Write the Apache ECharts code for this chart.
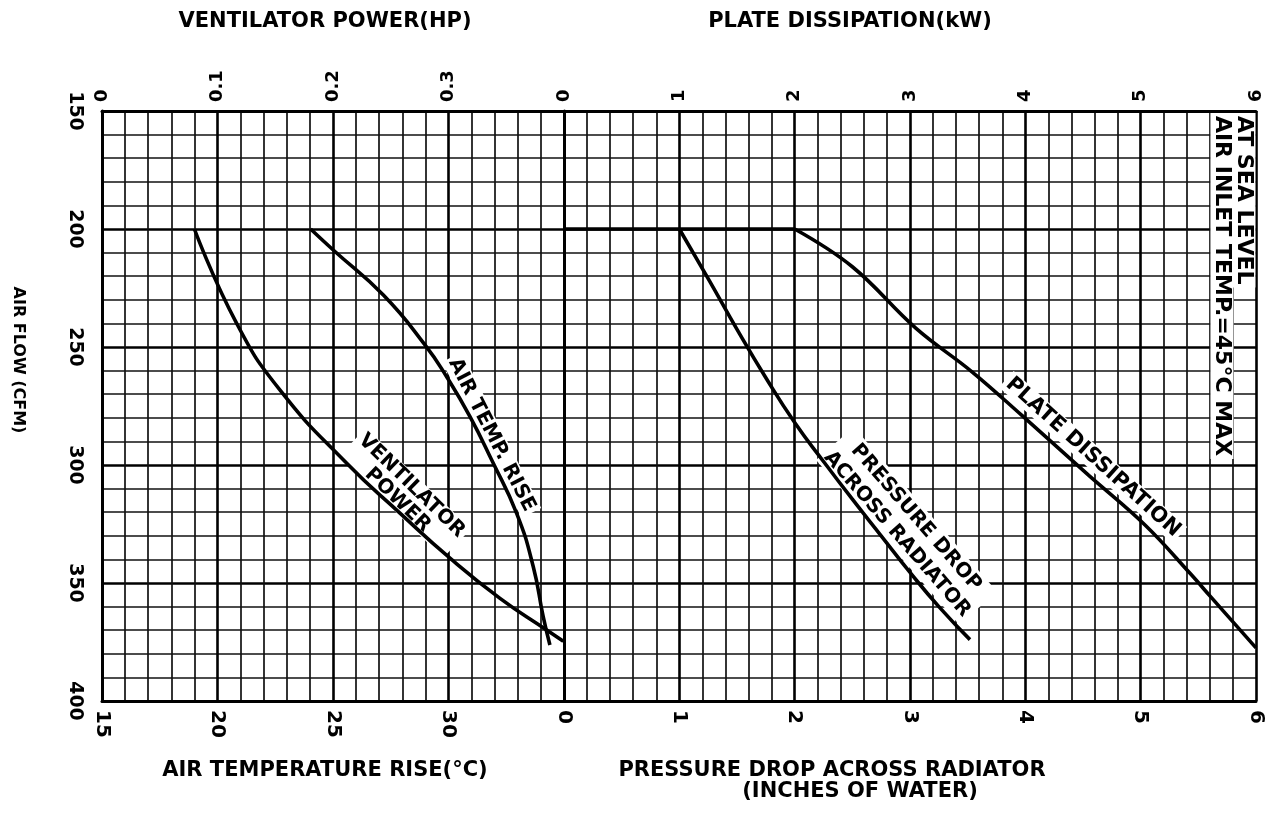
<!DOCTYPE html>
<html>
<head>
<meta charset="utf-8">
<title>Air flow chart</title>
<script src="https://cdn.jsdelivr.net/npm/echarts@6/dist/echarts.min.js"></script>
<style>
  html, body { margin: 0; padding: 0; background: #fff; }
  #chartDiv { width: 1272px; height: 824px; }
</style>
</head>
<body>
<div id="chartDiv"></div>
<script>
	// shared vertical scale: air flow (CFM), 150 at the top
	var airFlowTicks = [150, 200, 250, 300, 350, 400];
	// left panel: ventilator power on top, air temperature rise at the bottom
	var hpTicks = [0, 0.1, 0.2, 0.3, 0.4];
	var tempTicks = [15, 20, 25, 30, 35];
	// right panel: plate dissipation on top, pressure drop at the bottom
	var kwTicks = [0, 1, 2, 3, 4, 5, 6];
	var inchTicks = [0, 1, 2, 3, 4, 5, 6];

	// curves
	var ventPowerHp = [0.080, 0.1166, 0.154, 0.2119, 0.2582, 0.3013, 0.3446, 0.385, 0.3994];
	var ventPowerCfm = [200, 240, 268.2, 299.3, 320.5, 339.5, 356.5, 369.9, 374.7];

	var tempRiseC = [24.03, 25.01, 27.18, 28.99, 29.92, 30.93, 31.87, 32.95, 33.67, 34.10, 34.39];
	var tempRiseCfm = [200, 208.9, 228.0, 249.2, 262.6, 279.5, 297.9, 320.5, 343.1, 364.3, 376.3];

	var pressureIn = [1.0, 1.25, 1.5, 1.75, 2.0, 2.25, 2.5, 2.75, 3.0, 3.25, 3.52];
	var pressureCfm = [200, 221, 242.5, 263, 282, 298.5, 314.5, 330, 345.5, 360, 374];

	var plateFlatKw = [0, 2];
	var plateFlatCfm = [200, 200];
	var plateKw = [2.0, 2.5, 3.05, 3.54, 3.97, 4.55, 5.04, 5.43, 5.61, 6.0];
	var plateCfm = [200, 216, 242, 260.6, 279, 304.4, 325.5, 346, 356, 377.5];

	var FONT = 'DejaVu Sans';

	function pairs(xs, ys) {
		var out = [];
		for (var i = 0; i < xs.length; i++) {
			out.push([xs[i], ys[i]]);
		}
		return out;
	}

	function makeXAxis(ticks, gridIndex, position, fontSize, showSplit) {
		return {
			type : 'value',
			gridIndex : gridIndex,
			position : position,
			min : ticks[0],
			max : ticks[ticks.length - 1],
			interval : ticks[1] - ticks[0],
			axisLine : { show : true, lineStyle : { color : '#000', width : 3 } },
			axisTick : { show : false },
			axisLabel : {
				rotate : -90,
				margin : 9,
				color : '#000',
				fontFamily : FONT,
				fontWeight : 'bold',
				fontSize : fontSize,
				showMaxLabel : gridIndex === 1,
				formatter : function(v) { return String(v); }
			},
			splitLine : { show : showSplit, lineStyle : { color : '#000', width : 2.6 } },
			minorTick : { show : false, splitNumber : 5 },
			minorSplitLine : { show : showSplit, lineStyle : { color : '#111', width : 1.7 } }
		};
	}

	function makeYAxis(gridIndex, showLabels) {
		return {
			type : 'value',
			gridIndex : gridIndex,
			inverse : true,
			min : airFlowTicks[0],
			max : airFlowTicks[airFlowTicks.length - 1],
			interval : airFlowTicks[1] - airFlowTicks[0],
			axisLine : { show : true, lineStyle : { color : '#000', width : 3 } },
			axisTick : { show : false },
			axisLabel : {
				show : showLabels,
				rotate : -90,
				margin : 18,
				color : '#000',
				fontFamily : FONT,
				fontWeight : 'bold',
				fontSize : 19
			},
			splitLine : { show : true, lineStyle : { color : '#000', width : 2.6 } },
			minorTick : { show : false, splitNumber : 5 },
			minorSplitLine : { show : true, lineStyle : { color : '#111', width : 1.7 } }
		};
	}

	function curve(name, xIdx, yIdx, data, smooth) {
		return {
			name : name,
			type : 'line',
			xAxisIndex : xIdx,
			yAxisIndex : yIdx,
			data : data,
			smooth : smooth,
			showSymbol : false,
			symbol : 'none',
			silent : true,
			z : 5,
			lineStyle : { color : '#000', width : 3.6 }
		};
	}

	var chart = echarts.init(document.getElementById('chartDiv'), null, { renderer : 'canvas' });

	chart.setOption({
		animation : false,
		backgroundColor : '#fff',
		grid : [
			{ left : 102, top : 111, width : 462, height : 590 },
			{ left : 564, top : 111, width : 692, height : 590 }
		],
		xAxis : [
			makeXAxis(hpTicks, 0, 'top', 18, true),
			makeXAxis(tempTicks, 0, 'bottom', 20, false),
			makeXAxis(kwTicks, 1, 'top', 18, true),
			makeXAxis(inchTicks, 1, 'bottom', 20, false)
		],
		yAxis : [ makeYAxis(0, true), makeYAxis(1, false) ],
		series : [
			curve('Ventilator power', 0, 0, pairs(ventPowerHp, ventPowerCfm), 0.5),
			curve('Air temp rise', 1, 0, pairs(tempRiseC, tempRiseCfm), 0.5),
			curve('Pressure drop', 3, 1, pairs(pressureIn, pressureCfm), 0.5),
			curve('Plate dissipation', 2, 1, pairs(plateKw, plateCfm), 0.4),
			curve('Plate dissipation base', 2, 1, pairs(plateFlatKw, plateFlatCfm), false)
		]
	});

	// labels along the curves, anchored in data space
	var curveLabels = [
		{ text : 'AIR TEMP. RISE', series : 1, at : [31.87, 287.3], angle : 63, lh : 22, size : 20 },
		{ text : 'VENTILATOR\nPOWER', series : 1, at : [28.1, 311.8], angle : 44, lh : 20, size : 20 },
		{ text : 'PRESSURE DROP\nACROSS RADIATOR', series : 2, at : [2.97, 325.8], angle : 49, lh : 25, size : 20 },
		{ text : 'PLATE DISSIPATION', series : 3, at : [4.587, 296.7], angle : 42, lh : 22, size : 21 }
	];

	var graphics = [];
	curveLabels.forEach(function(l) {
		var p = chart.convertToPixel({ seriesIndex : l.series }, l.at);
		graphics.push({
			type : 'text',
			x : p[0],
			y : p[1],
			rotation : -l.angle * Math.PI / 180,
			z : 3,
			style : {
				text : l.text,
				fill : '#000',
				fontFamily : FONT,
				fontWeight : 'bold',
				fontSize : l.size,
				lineHeight : l.lh,
				align : 'center',
				verticalAlign : 'middle',
				backgroundColor : '#fff',
				padding : [0, 3]
			}
		});
	});

	// condition note in the top right corner, written downwards
	var notes = [
		{ text : 'AT SEA LEVEL', at : [5.895, 150.8] },
		{ text : 'AIR INLET TEMP.=45°C MAX', at : [5.705, 150.8] }
	];
	notes.forEach(function(n) {
		var p = chart.convertToPixel({ seriesIndex : 3 }, n.at);
		graphics.push({
			type : 'text',
			x : p[0],
			y : p[1],
			rotation : -Math.PI / 2,
			z : 3,
			style : {
				text : n.text,
				fill : '#000',
				fontFamily : FONT,
				fontWeight : 'bold',
				fontSize : 22,
				lineHeight : 23,
				align : 'left',
				verticalAlign : 'middle',
				backgroundColor : '#fff',
				padding : [0, 3]
			}
		});
	});

	// axis titles
	var titles = [
		{ text : 'VENTILATOR POWER(HP)', x : 325, y : 22, rot : 0, size : 21 },
		{ text : 'PLATE DISSIPATION(kW)', x : 850, y : 22, rot : 0, size : 21 },
		{ text : 'AIR TEMPERATURE RISE(°C)', x : 325, y : 771, rot : 0, size : 21 },
		{ text : 'PRESSURE DROP ACROSS RADIATOR', x : 832, y : 771, rot : 0, size : 21 },
		{ text : '(INCHES OF WATER)', x : 860, y : 792, rot : 0, size : 21 },
		{ text : 'AIR FLOW (CFM)', x : 18, y : 360, rot : -Math.PI / 2, size : 16 }
	];
	titles.forEach(function(t) {
		graphics.push({
			type : 'text',
			x : t.x,
			y : t.y,
			rotation : t.rot,
			z : 3,
			style : {
				text : t.text,
				fill : '#000',
				fontFamily : FONT,
				fontWeight : 'bold',
				fontSize : t.size,
				align : 'center',
				verticalAlign : 'middle'
			}
		});
	});

	chart.setOption({ graphic : graphics });
</script>
</body>
</html>
